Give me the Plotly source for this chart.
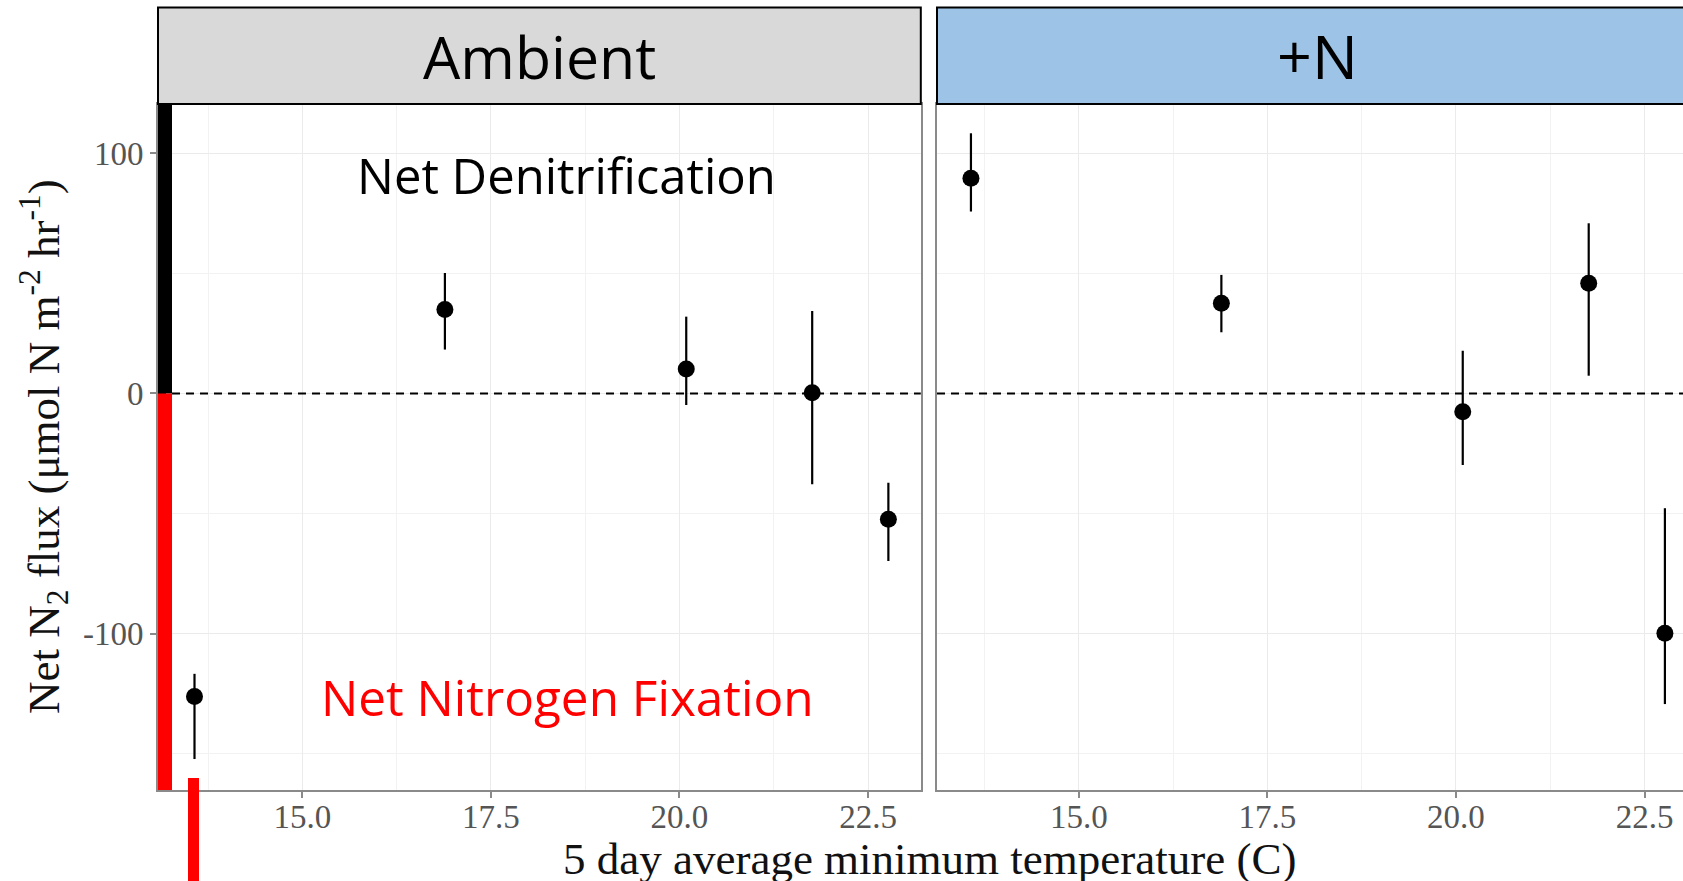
import plotly.graph_objects as go

# ---------------- data ----------------
temps = [13.57, 16.89, 20.09, 21.76, 22.77]

ambient_flux = [-126.2, 35.0, 10.2, 0.3, -52.4]
ambient_upper = [-116.8, 50.2, 32.0, 34.4, -37.2]
ambient_lower = [-152.3, 18.3, -4.8, -37.8, -69.8]

plusn_flux = [89.7, 37.6, -7.6, 45.9, -99.9]
plusn_upper = [108.4, 49.4, 17.8, 70.9, -47.8]
plusn_lower = [75.8, 25.5, -29.8, 7.4, -129.4]

panel_labels = ["Ambient", "+N"]
x_ticks = [15.0, 17.5, 20.0, 22.5]
x_tick_text = ["15.0", "17.5", "20.0", "22.5"]
y_ticks = [-100, 0, 100]
y_tick_text = ["-100", "0", "100"]

# ---------------- layout geometry ----------------
W, H = 1683, 881
ML, MR, MT, MB = 158, 0, 104, 91
PW = W - ML - MR
PH = H - MT - MB


def px(xp):
    return (xp - ML) / PW


def py(yp):
    return (H - MB - yp) / PH


dom1 = [0.0, px(920.8)]
dom2 = [px(937.0), 1.0]

GRID = "#ebebeb"
AXC = "#8a8a8a"
TICKC = "#555555"
SERIF = "Liberation Serif, Times New Roman, serif"
SANS = "Open Sans, Noto Sans, sans-serif"


def err(vals, up, lo):
    return dict(type="data", symmetric=False,
                array=[u - v for u, v in zip(up, vals)],
                arrayminus=[v - l for v, l in zip(vals, lo)],
                color="black", thickness=2.2, width=0)


fig = go.Figure()
fig.add_trace(go.Scatter(x=temps, y=ambient_flux, mode="markers",
                         marker=dict(color="black", size=17),
                         error_y=err(ambient_flux, ambient_upper, ambient_lower),
                         xaxis="x", yaxis="y", showlegend=False))
fig.add_trace(go.Scatter(x=temps, y=plusn_flux, mode="markers",
                         marker=dict(color="black", size=17),
                         error_y=err(plusn_flux, plusn_upper, plusn_lower),
                         xaxis="x2", yaxis="y2", showlegend=False))

xcommon = dict(tickmode="array", tickvals=x_ticks, ticktext=x_tick_text,
               showgrid=True, gridcolor=GRID, gridwidth=1.3,
               minor=dict(dtick=1.25, tick0=13.75, showgrid=True,
                          gridcolor="#f2f2f2", gridwidth=1, ticklen=0),
               showline=True, linecolor=AXC, linewidth=1.6, mirror=True,
               ticks="outside", ticklen=6, tickcolor=AXC, tickwidth=1.5,
               ticklabelstandoff=-9,
               tickfont=dict(family=SERIF, size=33, color=TICKC),
               zeroline=False, automargin=False)
ycommon = dict(range=[-165.2, 120.6], tickmode="array", tickvals=y_ticks,
               ticktext=y_tick_text, showgrid=True, gridcolor=GRID,
               gridwidth=1.3,
               minor=dict(dtick=50, tick0=-150, showgrid=True,
                          gridcolor="#f2f2f2", gridwidth=1, ticklen=0),
               showline=True, linecolor=AXC, linewidth=1.6, mirror=True,
               zeroline=False, automargin=False,
               tickfont=dict(family=SERIF, size=33, color=TICKC))

fig.update_layout(
    width=W, height=H,
    margin=dict(l=ML, r=MR, t=MT, b=MB, pad=0),
    template="none",
    paper_bgcolor="white", plot_bgcolor="white",
    xaxis=dict(domain=dom1, range=[13.086, 23.20], anchor="y", **xcommon),
    xaxis2=dict(domain=dom2, range=[13.12, 23.01], anchor="y2", **xcommon),
    yaxis=dict(domain=[0, 1], anchor="x", ticks="outside", ticklen=6,
               tickcolor=AXC, tickwidth=1.5, **ycommon),
    yaxis2=dict(domain=[0, 1], anchor="x2", matches="y", showticklabels=False,
                ticks="", **ycommon),
)

shapes = []
# dashed zero lines
for xr in ["x domain", "x2 domain"]:
    shapes.append(dict(type="line", xref=xr, yref="y", x0=0, x1=1, y0=0, y1=0,
                       line=dict(color="black", width=2, dash="8px,6px"),
                       layer="above"))
# strips
strip_top = py(7.5)
shapes.append(dict(type="rect", xref="paper", yref="paper",
                   x0=dom1[0], x1=dom1[1], y0=1.0, y1=strip_top,
                   fillcolor="#d9d9d9", line=dict(color="black", width=2)))
shapes.append(dict(type="rect", xref="paper", yref="paper",
                   x0=dom2[0], x1=1.02, y0=1.0, y1=strip_top,
                   fillcolor="#9dc3e6", line=dict(color="black", width=2)))
# left coloured bar: black above zero, red below
shapes.append(dict(type="rect", xref="paper", yref="y",
                   x0=px(158), x1=px(172), y0=0, y1=120.6,
                   fillcolor="black", line=dict(width=0), layer="above"))
shapes.append(dict(type="rect", xref="paper", yref="y",
                   x0=px(158), x1=px(172), y0=-165.2, y1=0,
                   fillcolor="#ff0000", line=dict(width=0), layer="above"))
# small red tick below axis
shapes.append(dict(type="rect", xref="paper", yref="paper",
                   x0=px(188), x1=px(199), y0=py(881), y1=py(778),
                   fillcolor="#ff0000", line=dict(width=0), layer="above"))
fig.update_layout(shapes=shapes)

ann = []
strip_mid = py(55.75)
ann.append(dict(text=panel_labels[0], xref="paper", yref="paper",
                x=(dom1[0] + dom1[1]) / 2, y=strip_mid, showarrow=False,
                xanchor="center", yanchor="middle",
                font=dict(family=SANS, size=59, color="black")))
ann.append(dict(text=panel_labels[1], xref="paper", yref="paper",
                x=px(1317), y=strip_mid, showarrow=False,
                xanchor="center", yanchor="middle",
                font=dict(family=SANS, size=61, color="black")))
ann.append(dict(text="Net Denitrification", xref="x", yref="y",
                x=18.5, y=91.0, showarrow=False, xanchor="center",
                yanchor="middle",
                font=dict(family=SANS, size=49, color="black")))
ann.append(dict(text="Net Nitrogen Fixation", xref="x", yref="y",
                x=18.52, y=-126.5, showarrow=False, xanchor="center",
                yanchor="middle",
                font=dict(family=SANS, size=49.5, color="#ff0000")))
ann.append(dict(text="5 day average minimum temperature (C)", xref="paper",
                yref="paper", x=px(929), y=py(858.6), showarrow=False,
                xanchor="center", yanchor="middle",
                font=dict(family=SERIF, size=45, color="#111111")))
ann.append(dict(text="Net N<sub>2</sub> flux (μmol N m<sup>-2</sup> hr<sup>-1</sup>)",
                xref="paper", yref="paper", x=px(43), y=py(447),
                showarrow=False, textangle=-90, xanchor="center",
                yanchor="middle",
                font=dict(family=SERIF, size=45, color="#111111")))
fig.update_layout(annotations=ann)

fig.write_html("out.html")
